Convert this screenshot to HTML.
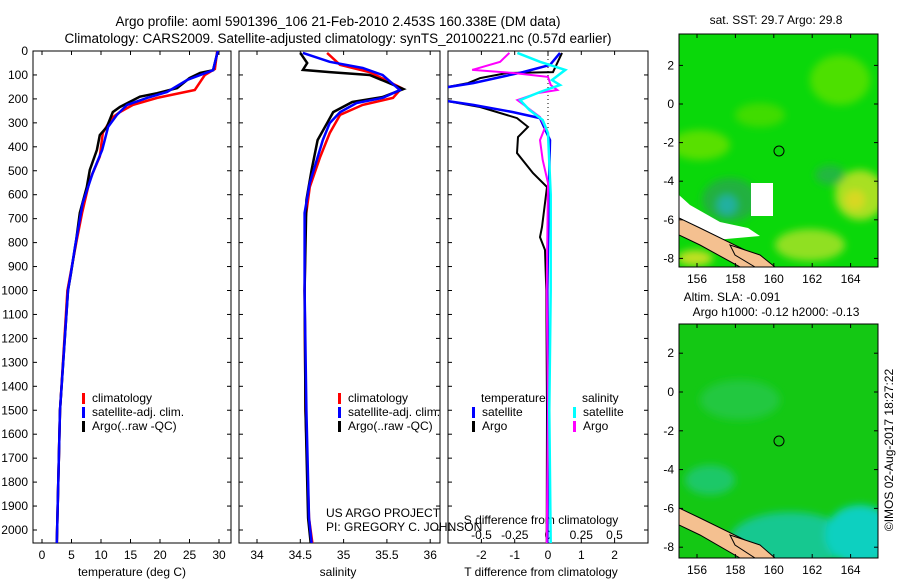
<!DOCTYPE html>
<html><head><meta charset="utf-8"><style>
body{margin:0;background:#fff}
svg{display:block;font-family:"Liberation Sans",sans-serif}
text{fill:#000}
</style></head><body>
<svg id="fig" width="900" height="580" viewBox="0 0 900 580">
<defs>
<filter id="blur" x="-20%" y="-20%" width="140%" height="140%"><feGaussianBlur stdDeviation="4"/></filter>
<clipPath id="c1"><rect x="33" y="51" width="198" height="492"/></clipPath>
<clipPath id="c2"><rect x="239" y="51" width="201" height="492"/></clipPath>
<clipPath id="c3"><rect x="448" y="51" width="200" height="492"/></clipPath>
<clipPath id="m1"><rect x="679" y="34" width="199" height="233"/></clipPath>
<clipPath id="m2"><rect x="679" y="324" width="199" height="234"/></clipPath>
</defs>
<text x="338" y="26" font-size="13.5" text-anchor="middle">Argo profile: aoml 5901396_106 21-Feb-2010 2.453S 160.338E (DM data)</text>
<text x="338" y="43" font-size="13.5" text-anchor="middle">Climatology: CARS2009. Satellite-adjusted climatology: synTS_20100221.nc (0.57d earlier)</text>

<g>
<text x="776" y="24" font-size="12" text-anchor="middle">sat. SST: 29.7 Argo: 29.8</text>
<g clip-path="url(#m1)">
<rect x="679" y="34" width="199" height="233" fill="#0ad80a"/>
<g filter="url(#blur)">
<ellipse cx="840" cy="80" rx="30" ry="25" fill="#4ee000"/>
<ellipse cx="700" cy="145" rx="30" ry="15" fill="#58e000"/>
<ellipse cx="760" cy="115" rx="25" ry="12" fill="#40dc00"/>
<ellipse cx="860" cy="195" rx="25" ry="25" fill="#a8e020"/>
<ellipse cx="855" cy="200" rx="10" ry="10" fill="#d8d820"/>
<ellipse cx="810" cy="245" rx="35" ry="16" fill="#90e020"/>
<ellipse cx="730" cy="200" rx="28" ry="22" fill="#20b040"/>
<ellipse cx="727" cy="205" rx="10" ry="10" fill="#20b0a0"/>
<ellipse cx="830" cy="175" rx="15" ry="10" fill="#20b840"/>
<ellipse cx="695" cy="258" rx="18" ry="8" fill="#c0e020"/>
</g>
<polygon points="679,195 690,205 720,222 748,228 760,236 715,240 679,225" fill="#fff"/>
<rect x="751" y="183" width="22" height="33" fill="#fff"/>
<polygon points="679,218 700,228 745,250 765,267 740,267 700,245 679,235" fill="#f4c090" stroke="#000" stroke-width="1"/>
<polygon points="730,245 760,255 775,267 755,267 735,255" fill="#f4c090" stroke="#000" stroke-width="1"/>
<circle cx="779" cy="151" r="5" fill="none" stroke="#000"/>
</g>
<rect x="679" y="34" width="199" height="233" fill="none" stroke="#000"/>
</g>

<g>
<text x="732" y="301" font-size="12" text-anchor="middle">Altim. SLA: -0.091</text>
<text x="776" y="316" font-size="12" text-anchor="middle">Argo h1000: -0.12 h2000: -0.13</text>
<g clip-path="url(#m2)">
<rect x="679" y="324" width="199" height="234" fill="#14c814"/>
<g filter="url(#blur)">
<ellipse cx="740" cy="400" rx="40" ry="20" fill="#22c840"/>
<ellipse cx="790" cy="540" rx="60" ry="28" fill="#18c890"/>
<ellipse cx="860" cy="535" rx="35" ry="30" fill="#10d0c0"/>
<ellipse cx="710" cy="480" rx="25" ry="15" fill="#1ec868"/>
</g>
<polygon points="679,508 700,518 745,540 765,558 740,558 700,535 679,525" fill="#f4c090" stroke="#000" stroke-width="1"/>
<polygon points="730,535 760,545 775,558 755,558 735,545" fill="#f4c090" stroke="#000" stroke-width="1"/>
<circle cx="779" cy="441" r="5" fill="none" stroke="#000"/>
</g>
<rect x="679" y="324" width="199" height="234" fill="none" stroke="#000"/>
</g>

<text transform="translate(893,450) rotate(-90)" font-size="12" text-anchor="middle">©IMOS 02-Aug-2017 18:27:22</text>
<g id="dyn"></g>
</svg>
<script>
// ---- data ----
var depthTicks=[0,100,200,300,400,500,600,700,800,900,1000,1100,1200,1300,1400,1500,1600,1700,1800,1900,2000];
var tempTicks=[0,5,10,15,20,25,30];
var salTicks=[34,34.5,35,35.5,36];
var tdTicks=[-2,-1,0,1,2];
var sdTicks=[-0.5,-0.25,0,0.25,0.5];
var sdTickLabels=["-0.5","-0.25","0","0.25","0.5"];
var lonTicks=[156,158,160,162,164];
var latTicks1=[2,0,-2,-4,-6,-8];

var tClimD=[0,75,100,163,196,225,255,280,342,441,538,676,788,1000,1500,2055];
var tClimV=[29.7,29.3,27.6,25.9,19.5,15.4,13.2,11.8,10.3,9.8,8.1,6.8,5.9,4.3,3.05,2.5];
var tSatD=[0,80,121,171,196,225,267,317,413,510,635,818,927,1000,1500,2055];
var tSatV=[29.8,29,24.6,21.2,17.8,14.4,12.7,11.2,10.2,8.6,6.9,5.6,4.9,4.4,3.05,2.5];
var tArgoD=[0,80,92,113,155,176,191,234,255,317,351,413,497,568,676,789,930,1000,1500,2055];
var tArgoV=[29.8,29,26.8,25,22.9,19.5,16.6,13.2,12,11,9.8,9.3,8.1,7.6,6.4,5.8,4.9,4.4,3.05,2.5];

var sClimD=[8,58,88,155,196,225,267,343,442,568,700,1000,1500,1950,2055];
var sClimV=[34.81,34.96,35.3,35.67,35.57,35.22,34.96,34.84,34.73,34.61,34.56,34.55,34.56,34.6,34.64];
var sSatD=[8,45,71,100,163,196,217,255,301,372,455,551,676,1000,1500,1950,2055];
var sSatV=[34.53,34.84,35.22,35.45,35.65,35.45,35.15,34.96,34.84,34.76,34.69,34.61,34.55,34.55,34.57,34.6,34.63];
var sArgoD=[8,50,79,88,100,130,159,192,213,255,301,372,497,622,1000,1500,1950,2055];
var sArgoV=[34.5,34.58,34.53,34.84,35.3,35.5,35.69,35.45,35.1,34.88,34.81,34.7,34.63,34.57,34.55,34.56,34.59,34.62];

var dtSatD=[8,58,88,134,155,180,205,225,255,280,372,600,1000,1500,2055];
var dtSatV=[0.36,0.06,-0.75,-2.25,-3.2,-3.2,-3.2,-2.25,-1.05,-0.24,0.06,0.02,-0.02,0,-0.02];
var dtArgoD=[8,88,92,113,134,155,180,205,234,280,317,359,426,510,568,735,777,831,1000,1500,2055];
var dtArgoV=[0.42,0.15,-1.23,-2.04,-2.4,-3.2,-3.2,-3.2,-2.04,-0.93,-0.6,-0.9,-0.93,-0.45,-0.03,-0.18,-0.24,-0.09,-0.05,-0.03,-0.04];
var dsSatD=[8,45,79,121,142,171,205,246,288,343,600,1000,1500,2055];
var dsSatV=[-0.23,-0.06,0.13,0.03,0.09,-0.06,-0.21,-0.14,-0.04,0.0,0.02,0.02,0.01,0.02];
var dsArgoD=[8,45,79,92,108,142,163,176,205,234,276,317,372,455,551,1000,1500,2055];
var dsArgoV=[-0.29,-0.36,-0.57,-0.26,0,0.02,0.07,-0.08,-0.23,-0.16,-0.06,-0.02,-0.06,-0.04,0,-0.01,0,-0.01];

// ---- scales ----
function yD(d){return 51+d*0.2395;}
function xT(t){return 42+t*5.9;}
function xS(s){return 257+(s-34)*86.6;}
function xDT(t){return 548+t*33.3;}
function xDS(s){return 548+s*133;}
function xLon(l){return 697+(l-156)*19.2;}
function yLat1(l){return 104-l*19.3;}
function yLat2(l){return 392-l*19.4;}

var NS="http://www.w3.org/2000/svg";
var dyn=document.getElementById('dyn');
function mk(tag,attrs,parent){var e=document.createElementNS(NS,tag);for(var k in attrs)e.setAttribute(k,attrs[k]);(parent||dyn).appendChild(e);return e;}
function txt(x,y,s,anchor,parent){var t=mk('text',{x:x,y:y,'font-size':12,'text-anchor':anchor||'middle'},parent);t.textContent=s;return t;}

function panel(x0,x1,clip,name){
  var g=mk('g',{});
  
  
  var r=mk('rect',{x:x0,y:51,width:x1-x0,height:492,fill:'none',stroke:'#000','stroke-width':1},g);
  
  
  depthTicks.forEach(function(d){var y=yD(d);mk('line',{x1:x0,x2:x0+4,y1:y,y2:y,stroke:'#000'},g);mk('line',{x1:x1-4,x2:x1,y1:y,y2:y,stroke:'#000'},g);});
  return g;
}
function series(g,D,V,xf,color,w,name,clip){
  var p='';for(var i=0;i<D.length;i++){p+=(i?'L':'M')+xf(V[i]).toFixed(1)+','+yD(D[i]).toFixed(1);}
  var e=mk('path',{d:p,fill:'none',stroke:color,'stroke-width':w,'clip-path':'url(#'+clip+')'},g);
  
  
}
function legendItem(g,x,y,color,label,name){
  mk('rect',{x:x,y:y-9,width:3,height:11,fill:color},g);
  var t=txt(x+10,y,label,'start',g);
  
  
}

// panel 1
var g1=panel(33,231,'c1','temperature-panel');
var yl=mk('g',{});


depthTicks.forEach(function(d){txt(28,yD(d)+4,String(d),'end',yl);});
tempTicks.forEach(function(t){var x=xT(t);mk('line',{x1:x,x2:x,y1:543,y2:539,stroke:'#000'},g1);mk('line',{x1:x,x2:x,y1:51,y2:55,stroke:'#000'},g1);txt(x,559,String(t),'middle',g1);});
var tt=txt(132,576,'temperature (deg C)','middle',g1);

series(g1,tClimD,tClimV,xT,'#f00',2.5,'temp-climatology-line','c1');
series(g1,tArgoD,tArgoV,xT,'#000',2.5,'temp-argo-line','c1');
series(g1,tSatD,tSatV,xT,'#00f',2.5,'temp-satellite-line','c1');
legendItem(g1,82,402,'#f00','climatology','legend-climatology');
legendItem(g1,82,416,'#00f','satellite-adj. clim.','legend-satellite');
legendItem(g1,82,430,'#000','Argo(..raw -QC)','legend-argo');

// panel 2
var g2=panel(239,440,'c2','salinity-panel');
salTicks.forEach(function(s){var x=xS(s);mk('line',{x1:x,x2:x,y1:543,y2:539,stroke:'#000'},g2);mk('line',{x1:x,x2:x,y1:51,y2:55,stroke:'#000'},g2);txt(x,559,String(s),'middle',g2);});
var st=txt(338,576,'salinity','middle',g2);

series(g2,sClimD,sClimV,xS,'#f00',2.5,'sal-climatology-line','c2');
series(g2,sArgoD,sArgoV,xS,'#000',2.5,'sal-argo-line','c2');
series(g2,sSatD,sSatV,xS,'#00f',2.5,'sal-satellite-line','c2');
legendItem(g2,338,402,'#f00','climatology','legend2-climatology');
legendItem(g2,338,416,'#00f','satellite-adj. clim.','legend2-satellite');
legendItem(g2,338,430,'#000','Argo(..raw -QC)','legend2-argo');
var c1=txt(326,517,'US ARGO PROJECT','start',g2);

var c2=txt(326,531,'PI: GREGORY C. JOHNSON','start',g2);


// panel 3
var g3=panel(448,648,'c3','difference-panel');
tdTicks.forEach(function(t){var x=xDT(t);mk('line',{x1:x,x2:x,y1:543,y2:539,stroke:'#000'},g3);mk('line',{x1:x,x2:x,y1:51,y2:55,stroke:'#000'},g3);txt(x,559,String(t),'middle',g3);});
sdTicks.forEach(function(s,i){txt(xDS(s),539,sdTickLabels[i],'middle',g3);});
var s3=txt(541,524,'S difference from climatology','middle',g3);

var t3=txt(541,576,'T difference from climatology','middle',g3);

mk('line',{x1:548,x2:548,y1:51,y2:150,stroke:'#000','stroke-dasharray':'1,3'},g3);
series(g3,dtArgoD,dtArgoV,xDT,'#000',2,'dt-argo-line','c3');
series(g3,dtSatD,dtSatV,xDT,'#00f',2.5,'dt-satellite-line','c3');
series(g3,dsArgoD,dsArgoV,xDS,'#f0f',2,'ds-argo-line','c3');
series(g3,dsSatD,dsSatV,xDS,'#0ff',2.5,'ds-satellite-line','c3');
var lt=txt(481,402,'temperature','start',g3);

var ls=txt(582,402,'salinity','start',g3);

legendItem(g3,472,416,'#00f','satellite','legend3-temp-satellite');
legendItem(g3,472,430,'#000','Argo','legend3-temp-argo');
legendItem(g3,573,416,'#0ff','satellite','legend3-sal-satellite');
legendItem(g3,573,430,'#f0f','Argo','legend3-sal-argo');

// map axes
function mapAxes(yTop,yBot,yl){
  var g=mk('g',{});
  
  
  lonTicks.forEach(function(l){var x=xLon(l);mk('line',{x1:x,x2:x,y1:yBot,y2:yBot-4,stroke:'#000'},g);mk('line',{x1:x,x2:x,y1:yTop,y2:yTop+4,stroke:'#000'},g);txt(x,yBot+16,String(l),'middle',g);});
  latTicks1.forEach(function(l){var y=yl(l);mk('line',{x1:679,x2:683,y1:y,y2:y,stroke:'#000'},g);mk('line',{x1:874,x2:878,y1:y,y2:y,stroke:'#000'},g);txt(674,y+4,String(l),'end',g);});
}
mapAxes(34,267,yLat1);
mapAxes(324,558,yLat2);
</script>
</body></html>
